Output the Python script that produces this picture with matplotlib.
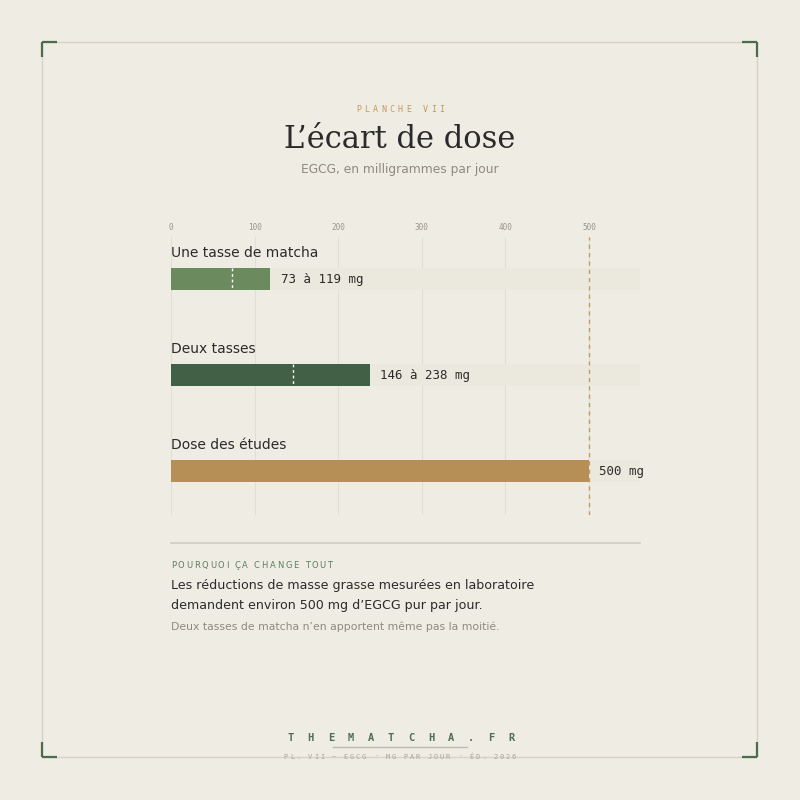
import matplotlib
matplotlib.use("Agg")
import matplotlib.pyplot as plt
from matplotlib.patches import Rectangle

# ---- data ----
categories = ["Une tasse de matcha", "Deux tasses", "Dose des études"]
low_values = [73, 146, 500]
high_values = [119, 238, 500]
value_labels = ["73 à 119 mg", "146 à 238 mg", "500 mg"]
tick_values = [0, 100, 200, 300, 400, 500]
target_dose = 500
axis_max = 561

BG = "#EFECE4"
TRACK = "#EBE9DD"
GRID = "#E2DED5"
COLORS = ["#6B8A5E", "#426046", "#B68F57"]
TAN = "#C49A60"
DARK = "#2B2B2B"
GRAY = "#8E8A80"
GREEN = "#4A6B4C"

W = H = 800
fig = plt.figure(figsize=(8, 8), dpi=100, facecolor=BG)

# overlay axes in pixel coordinates
ov = fig.add_axes([0, 0, 1, 1], zorder=0)
ov.set_xlim(0, W)
ov.set_ylim(H, 0)
ov.axis("off")
ov.set_facecolor(BG)

# frame
ov.add_patch(Rectangle((42, 42), 715, 715, fill=False, ec="#D6D2C8", lw=1))
L = 15
for (cx, cy, dx, dy) in [(42, 42, 1, 1), (757, 42, -1, 1), (42, 757, 1, -1), (757, 757, -1, -1)]:
    ov.plot([cx, cx + dx * L], [cy, cy], color=GREEN, lw=1.6, solid_capstyle="butt")
    ov.plot([cx, cx], [cy, cy + dy * L], color=GREEN, lw=1.6, solid_capstyle="butt")

renderer = fig.canvas.get_renderer()

def _w(s, size, family, weight):
    t = ov.text(0, 0, s, fontsize=size, family=family, weight=weight)
    w = t.get_window_extent(renderer).width
    t.remove()
    return w

def spaced(x, y, s, size, color, track, family="DejaVu Sans Mono", weight="normal", ha="left"):
    base = _w("HH", size, family, weight)
    widths = [_w("H" + ch + "H", size, family, weight) - base for ch in s]
    total = sum(widths) + track * (len(s) - 1)
    xs = x - total / 2 if ha == "center" else x
    cap = size * 100 / 72 * 0.73
    cur = xs
    for ch, w in zip(s, widths):
        if ch != " ":
            ov.text(cur, y + cap / 2, ch, fontsize=size, family=family, weight=weight, color=color,
                    ha="left", va="baseline")
        cur += w + track

# header
spaced(400, 109, "PLANCHE VII", 6, TAN, 3.3, ha="center")
ov.text(400, 140, "L\u2019écart de dose", fontsize=22, family="DejaVu Serif", color=DARK,
        ha="center", va="center")
ov.text(400, 170, "EGCG, en milligrammes par jour", fontsize=8.8, family="DejaVu Sans", color=GRAY,
        ha="center", va="center")

# chart axes
x0, x1 = 171, 640
ytop, ybot = 237, 515
ax = fig.add_axes([x0 / W, 1 - ybot / H, (x1 - x0) / W, (ybot - ytop) / H], zorder=1)
ax.set_facecolor("none")
ax.set_xlim(0, axis_max)
pitch = 96.0
ax.set_ylim((ybot - 279) / pitch, (ytop - 279) / pitch)
for s in ax.spines.values():
    s.set_visible(False)
ax.set_xticks([])
ax.set_yticks([])

for t in tick_values:
    ax.axvline(t, color=GRID, lw=0.8, zorder=0)
    ax.text(t, (227 - 279) / pitch, str(t), fontsize=5.5, family="DejaVu Sans Mono",
            color="#9A968C", ha="center", va="center", clip_on=False)

bh = 22 / pitch
for i, (cat, lo, hi, lab, c) in enumerate(zip(categories, low_values, high_values, value_labels, COLORS)):
    ax.barh(i, axis_max, height=bh, color=TRACK, zorder=1)
    ax.barh(i, hi, height=bh, color=c, zorder=2)
    if lo < hi:
        ax.plot([lo, lo], [i - bh / 2, i + bh / 2], color="white", lw=1, ls=(0, (2, 2)), zorder=3)
    ax.text(hi + 12, i, lab, fontsize=9.0, family="DejaVu Sans Mono", color=DARK,
            ha="left", va="center", zorder=4, clip_on=False)
    ax.text(0, i - 26 / pitch, cat, fontsize=10.0, family="DejaVu Sans", color=DARK,
            ha="left", va="center", zorder=4)

ax.axvline(target_dose, color=TAN, lw=1, ls=(0, (3, 3)), zorder=3)

# separator
ov.plot([171, 640], [543, 543], color="#CFCCC2", lw=1.2)

spaced(171, 565, "POURQUOI ÇA CHANGE TOUT", 6, "#5E7D60", 1.7, family="DejaVu Sans")
ov.text(171, 586, "Les réductions de masse grasse mesurées en laboratoire", fontsize=9.05,
        family="DejaVu Sans", color=DARK, ha="left", va="center")
ov.text(171, 605, "demandent environ 500 mg d\u2019EGCG pur par jour.", fontsize=9.05,
        family="DejaVu Sans", color=DARK, ha="left", va="center")
ov.text(171, 627, "Deux tasses de matcha n\u2019en apportent même pas la moitié.", fontsize=7.85,
        family="DejaVu Sans", color=GRAY, ha="left", va="center")

# footer
spaced(401, 737, "THEMATCHA.FR", 7.5, "#4F6E52", 13.8, weight="bold", ha="center")
ov.plot([333, 467], [747, 747], color="#BDB9AE", lw=1)
spaced(400, 756, "PL. VII \u2014 EGCG \u00b7 MG PAR JOUR \u00b7 ÉD. 2026", 5, "#A8A49A", 1.75, ha="center")

fig.savefig("out.png", dpi=100, facecolor=BG)
